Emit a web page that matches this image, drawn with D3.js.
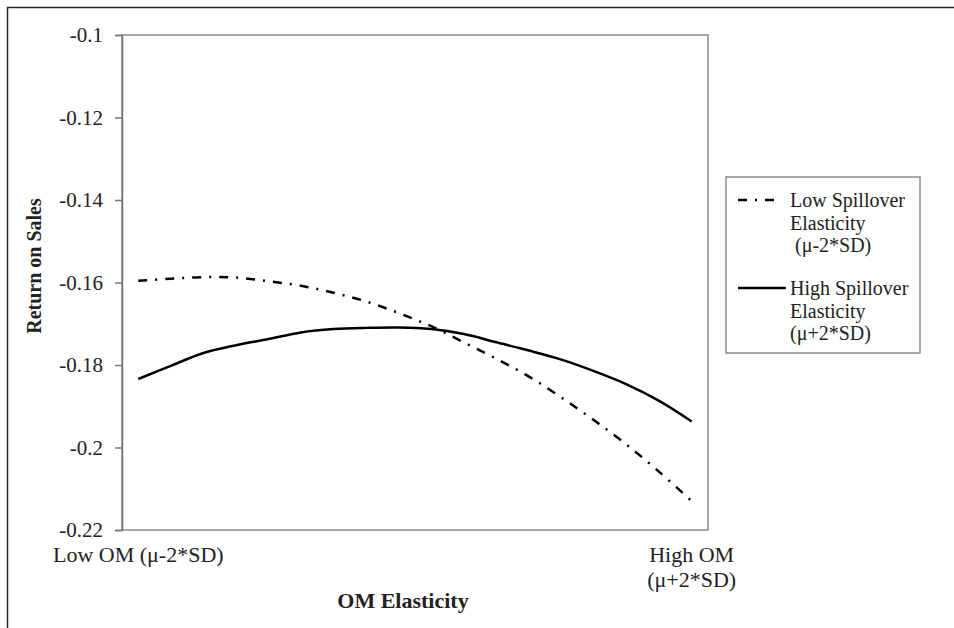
<!DOCTYPE html>
<html>
<head>
<meta charset="utf-8">
<script src="https://cdn.jsdelivr.net/npm/d3@7"></script>
<style>
  html, body { margin: 0; padding: 0; background: #fff; }
  svg { display: block; }
  svg text { font-family: "Liberation Serif", "Times New Roman", serif !important; fill: #222; }
</style>
</head>
<body>
<svg id="chart" width="954" height="628"></svg>
<script>
// ---- data ----
const xLabels = ["Low OM (μ-2*SD)", "", "", "", "", "", "", "", "", "", "", "", "", "", "", "", "", "High OM|(μ+2*SD)"];
const lowSpillover = [-0.1596, -0.1591, -0.1587, -0.1588, -0.1597, -0.1608, -0.1625, -0.1646, -0.1674, -0.1706, -0.1745, -0.1785, -0.1828, -0.1879, -0.1934, -0.1993, -0.2059, -0.2130];
const highSpillover = [-0.1834, -0.1802, -0.1771, -0.1752, -0.1737, -0.1721, -0.1713, -0.1710, -0.1709, -0.1713, -0.1725, -0.1745, -0.1765, -0.1787, -0.1815, -0.1847, -0.1887, -0.1937];
const yTicks = [-0.1, -0.12, -0.14, -0.16, -0.18, -0.2, -0.22];
const seriesNames = [["Low Spillover", "Elasticity", " (μ-2*SD)"], ["High Spillover", "Elasticity", "(μ+2*SD)"]];

// ---- layout ----
const FONT = "'Liberation Serif', 'Times New Roman', serif";
const svg = d3.select("#chart");
const plot = { left: 122, right: 708, top: 35, bottom: 530 };

// outer chart border
svg.append("rect").attr("x", 7.5).attr("y", 7.5).attr("width", 1000).attr("height", 700)
  .attr("fill", "none").attr("stroke", "#2a2a2a").attr("stroke-width", 1.5);

const x = d3.scaleBand().domain(d3.range(xLabels.length)).range([plot.left, plot.right]).padding(0);
const xc = i => x(i) + x.bandwidth() / 2;
const y = d3.scaleLinear().domain([-0.22, -0.1]).range([plot.bottom, plot.top]);

// plot area border
svg.append("rect").attr("x", plot.left).attr("y", plot.top)
  .attr("width", plot.right - plot.left).attr("height", plot.bottom - plot.top)
  .attr("fill", "none").attr("stroke", "#8c8c8c").attr("stroke-width", 1.5);

// y axis
const yAxis = d3.axisLeft(y).tickValues(yTicks).tickSize(7).tickPadding(12)
  .tickFormat(d => String(+d.toFixed(2)));
const gy = svg.append("g").attr("transform", `translate(${plot.left},0)`).call(yAxis)
  .attr("font-family", FONT).attr("font-size", 21);
gy.select(".domain").attr("stroke", "#777").attr("stroke-width", 1.5);
gy.selectAll(".tick line").attr("stroke", "#777").attr("stroke-width", 1.5);
gy.selectAll(".tick text").attr("font-size", 21).attr("fill", "#222").attr("dy", "0.33em")
  .attr("font-family", FONT).style("font-family", FONT);

// x axis labels
const gx = svg.append("g").attr("font-family", FONT);
xLabels.forEach((lab, i) => {
  if (!lab) return;
  const lines = lab.split("|");
  const t = gx.append("text").attr("x", xc(i)).attr("y", 562).attr("text-anchor", "middle")
    .attr("font-size", 22).style("font-family", FONT);
  lines.forEach((ln, k) => t.append("tspan").attr("x", xc(i)).attr("dy", k === 0 ? 0 : 25).text(ln));
});

// axis titles
svg.append("text").attr("x", 403).attr("y", 608).attr("text-anchor", "middle")
  .attr("font-size", 22).attr("font-weight", "bold").style("font-family", FONT).text("OM Elasticity");
svg.append("text").attr("transform", "translate(41,266) rotate(-90)").attr("text-anchor", "middle")
  .attr("font-size", 20).attr("font-weight", "bold").style("font-family", FONT).text("Return on Sales");

// lines
const line = d3.line().x((d, i) => xc(i)).y(d => y(d)).curve(d3.curveCatmullRom);
svg.append("path").datum(lowSpillover).attr("d", line).attr("fill", "none")
  .attr("stroke", "#000").attr("stroke-width", 2.5).attr("stroke-dasharray", "9,8,2,8");
svg.append("path").datum(highSpillover).attr("d", line).attr("fill", "none")
  .attr("stroke", "#000").attr("stroke-width", 2.5);

// legend
const lg = svg.append("g").attr("font-family", FONT);
lg.append("rect").attr("x", 726).attr("y", 177).attr("width", 194).attr("height", 176)
  .attr("fill", "#fff").attr("stroke", "#8c8c8c").attr("stroke-width", 1.5);
const legY = [200, 288];
const dashes = ["9,8,2,8", null];
seriesNames.forEach((lines, s) => {
  const ly = legY[s];
  const p = lg.append("line").attr("x1", 738).attr("x2", s === 0 ? 779 : 786)
    .attr("y1", ly).attr("y2", ly).attr("stroke", "#000").attr("stroke-width", 2.5);
  if (dashes[s]) p.attr("stroke-dasharray", dashes[s]);
  lines.forEach((ln, k) => {
    lg.append("text").attr("x", 790).attr("y", ly + 7 + k * 22.5).attr("font-size", 20)
      .style("font-family", FONT).style("white-space", "pre").text(ln);
  });
});
</script>
</body>
</html>
